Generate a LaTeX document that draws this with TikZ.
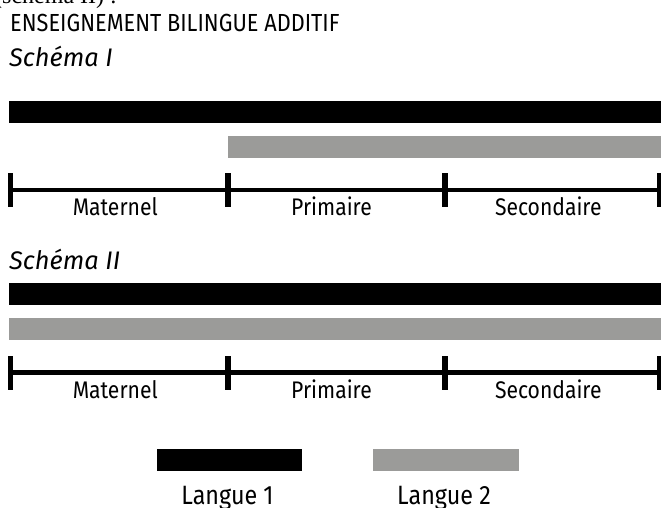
\documentclass[tikz,border=0pt]{standalone}
\usepackage{fontspec}
\newfontfamily\firacond[FakeStretch=0.88]{Fira Sans}
\newfontfamily\firaplain{Fira Sans}
\newfontfamily\serifcut{Liberation Serif}
\usetikzlibrary{positioning,calc}
\definecolor{langgray}{RGB}{155,155,153}
\tikzset{
  l1bar/.style={rectangle, fill=black, inner sep=0pt, minimum height=22pt},
  l2bar/.style={rectangle, fill=langgray, inner sep=0pt, minimum height=22pt},
  axisline/.style={line width=4.5pt},
  tickmark/.style={rectangle, fill=black, inner sep=0pt,
                   minimum width=5.5pt, minimum height=34pt},
  seglabel/.style={anchor=base, inner sep=0pt,
                   font=\firacond\fontsize{24}{28}\selectfont},
  headtext/.style={anchor=base west, inner sep=0pt,
                   font=\firacond\fontsize{24.7}{28}\selectfont},
  schematext/.style={anchor=base west, inner sep=0pt,
                     font=\firaplain\itshape\fontsize{25.4}{30}\selectfont},
  legtext/.style={anchor=base, inner sep=0pt,
                  font=\firacond\fontsize{26.5}{30}\selectfont},
}
\begin{document}
\begin{tikzpicture}[x=1pt,y=-1pt]
  \clip (0,0) rectangle (661,508);
  \fill[white] (0,0) rectangle (661,508);
  % line cut off at the top
  \node[anchor=base west, inner sep=0pt,
        font=\serifcut\fontsize{24}{28}\selectfont] (cut) at (-6,3.5) {(schéma II) :};
  \node[headtext] (title) at (10,32) {ENSEIGNEMENT BILINGUE ADDITIF};

  % Schéma I
  \node[schematext] (schI) at (9,67) {Schéma I};
  \node[l1bar, minimum width=660pt, anchor=north west] (l1I) at (9,101) {};
  \node[l2bar, minimum width=440pt, anchor=north west] (l2I) at (228,136) {};
  \foreach \x/\n in {10.5/a,228/b,445/c,659.5/d}
    \node[tickmark] (tI\n) at (\x,190) {};
  \draw[axisline] (tIa.center) -- (tId.center);
  \node[seglabel] (matI) at ($(tIa)!0.5!(tIb)+(-4,25)$) {Maternel};
  \node[seglabel] (priI) at ($(tIb)!0.5!(tIc)+(-5,25)$) {Primaire};
  \node[seglabel] (secI) at ($(tIc)!0.5!(tId)+(-4,25)$) {Secondaire};

  % Schéma II
  \node[schematext] (schII) at (9,269) {Schéma II};
  \node[l1bar, minimum width=660pt, anchor=north west] (l1II) at (9,283) {};
  \node[l2bar, minimum width=660pt, anchor=north west] (l2II) at (9,318) {};
  \foreach \x/\n in {10.5/a,228/b,445/c,659.5/d}
    \node[tickmark] (tII\n) at (\x,372.5) {};
  \draw[axisline] (tIIa.center) -- (tIId.center);
  \node[seglabel] (matII) at ($(tIIa)!0.5!(tIIb)+(-4,25.5)$) {Maternel};
  \node[seglabel] (priII) at ($(tIIb)!0.5!(tIIc)+(-5,25.5)$) {Primaire};
  \node[seglabel] (secII) at ($(tIIc)!0.5!(tIId)+(-4,25.5)$) {Secondaire};

  % legend
  \node[l1bar, minimum width=145pt] (leg1) at (229.5,460) {};
  \node[l2bar, minimum width=146pt] (leg2) at (446,460) {};
  \coordinate (legbase) at (0,504);
  \node[legtext, xshift=-2pt] (leg1txt) at (leg1 |- legbase) {Langue 1};
  \node[legtext, xshift=-2pt] (leg2txt) at (leg2 |- legbase) {Langue 2};
\end{tikzpicture}
\end{document}
